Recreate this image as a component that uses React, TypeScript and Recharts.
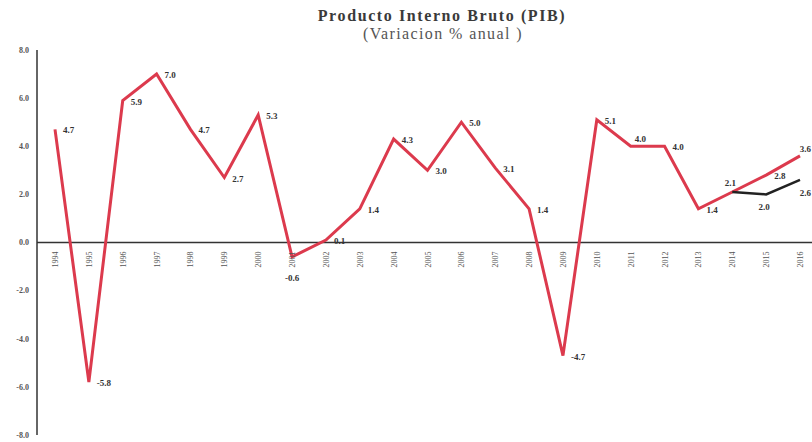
import React from 'react';
import { LineChart, Line, XAxis, YAxis, ReferenceLine, LabelList } from 'recharts';

const years = ['1994','1995','1996','1997','1998','1999','2000','2001','2002','2003','2004','2005','2006','2007','2008','2009','2010','2011','2012','2013','2014','2015','2016'];
const pib = [4.7,-5.8,5.9,7.0,4.7,2.7,5.3,-0.6,0.1,1.4,4.3,3.0,5.0,3.1,1.4,-4.7,5.1,4.0,4.0,1.4,2.1,2.8,3.6];
const proyeccion: (number | null)[] = [null,null,null,null,null,null,null,null,null,null,null,null,null,null,null,null,null,null,null,null,2.1,2.0,2.6];
const yTicks = [-8,-6,-4,-2,0,2,4,6,8];
const title = 'Producto Interno Bruto (PIB)';
const subtitle = '(Variacion % anual )';

const data = years.map((y, i) => ({ year: y, pib: pib[i], proj: proyeccion[i], zero: 0 }));

const FONT = '"Liberation Serif", "Times New Roman", Times, serif';
const TXT = '#333';

const redPlace: Record<string, [number, number, string]> = {
  '2001': [0, 24, 'middle'],
  '2011': [4, -4, 'start'],
  '2014': [-2, -6, 'middle'],
  '2016': [11, -4, 'end'],
};
const blackPlace: Record<string, [number, number, string]> = {
  '2015': [-2, 16, 'middle'],
  '2016': [11, 16, 'end'],
};

const makeLabel = (place: Record<string, [number, number, string]>, skip: string[]) => (props: any) => {
  const { x, y, value, index } = props;
  if (value === null || value === undefined) return null;
  const yr = years[index];
  if (skip.includes(yr)) return null;
  const p = place[yr] || [8, 4, 'start'];
  return (
    <text x={x + p[0]} y={y + p[1]} textAnchor={p[2] as any} fontFamily={FONT} fontWeight="bold" fontSize={9} fill={TXT}>
      {Number(value).toFixed(1)}
    </text>
  );
};

const YearTick = (props: any) => {
  const { cx, cy, index } = props;
  if (cx == null || cy == null) return null;
  return (
    <text
      key={'yt' + index}
      x={0}
      y={0}
      transform={`translate(${cx + 3}, ${cy + 9}) rotate(-90)`}
      textAnchor="end"
      fontFamily={FONT}
      fontSize={8}
      fill="#555"
    >
      {years[index]}
    </text>
  );
};

export default function App() {
  return (
    <div style={{ position: 'absolute', left: 0, top: 0, width: 812, height: 442, background: '#fff' }}>
      <div style={{ position: 'absolute', left: 0, width: 884, top: 7, textAlign: 'center', fontFamily: FONT, fontWeight: 'bold', fontSize: 16, letterSpacing: 1.6, color: '#3a3a3a', lineHeight: '18px' }}>
        {title}
      </div>
      <div style={{ position: 'absolute', left: 0, width: 886, top: 25, textAlign: 'center', fontFamily: FONT, fontSize: 16, letterSpacing: 1.4, color: '#555', lineHeight: '17px' }}>
        {subtitle}
      </div>
      <LineChart width={812} height={442} data={data} margin={{ top: 50, right: 0, bottom: 7, left: 0 }}>
        <XAxis dataKey="year" hide padding={{ left: 18, right: 12 }} />
        <YAxis
          domain={[-8, 8]}
          ticks={yTicks}
          width={37}
          tickLine={false}
          axisLine={{ stroke: '#333', strokeWidth: 1.5 }}
          tickFormatter={(v: number) => v.toFixed(1)}
          tick={{ fontFamily: FONT, fontSize: 8, fontWeight: 'bold', fill: '#555' }}
        />
        <ReferenceLine y={0} stroke="#333" strokeWidth={1.5} />
        <Line dataKey="zero" stroke="none" isAnimationActive={false} dot={<YearTick />} activeDot={false} />
        <Line dataKey="pib" stroke="#dc3a4d" strokeWidth={3} dot={false} isAnimationActive={false} strokeLinejoin="miter">
          <LabelList dataKey="pib" content={makeLabel(redPlace, [])} />
        </Line>
        <Line dataKey="proj" stroke="#222" strokeWidth={2.5} dot={false} isAnimationActive={false} connectNulls={false}>
          <LabelList dataKey="proj" content={makeLabel(blackPlace, ['2014'])} />
        </Line>
      </LineChart>
    </div>
  );
}
